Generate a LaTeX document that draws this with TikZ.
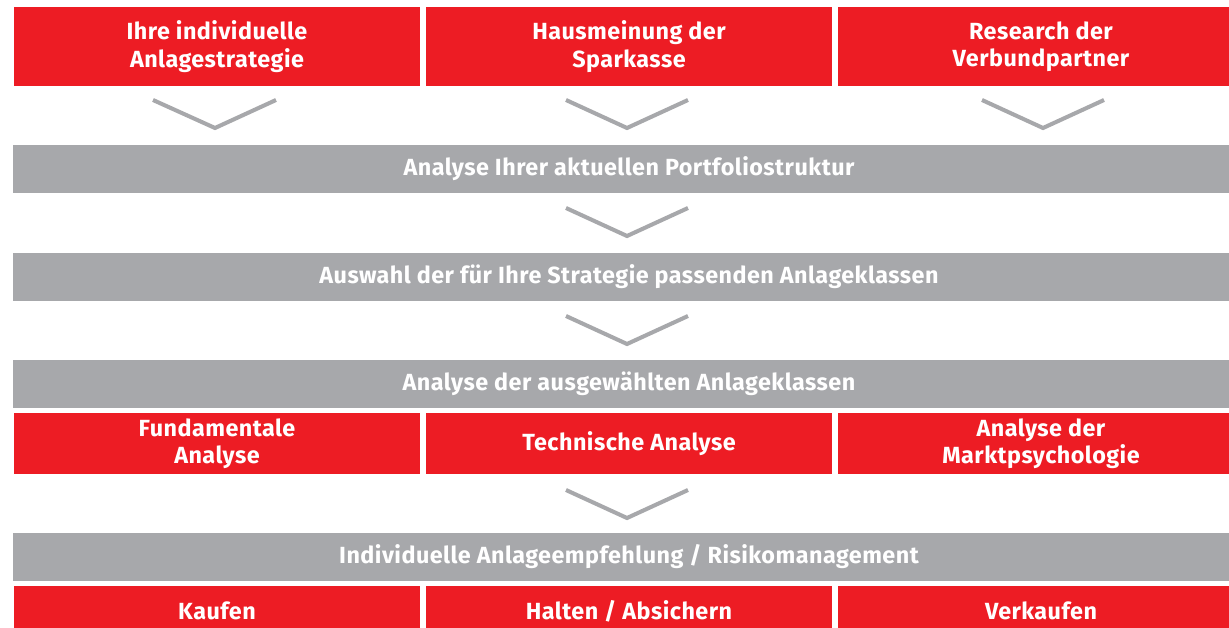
\documentclass[tikz,border=0pt]{standalone}
\usepackage{fontspec}
\setmainfont{Fira Sans}[LetterSpace=2.0]
\usepackage{xcolor}
\usepackage{tikz}
\usetikzlibrary{arrows}
\definecolor{sred}{HTML}{ED1C24}
\definecolor{sgray}{HTML}{A7A8AB}
\tikzset{
	box/.style={inner sep=0pt,align=center,text=white,font=\bfseries\fontsize{13.3}{15.6}\selectfont},
	red box/.style={box,fill=sred,minimum width=8.14cm},
	gray bar/.style={box,fill=sgray,minimum width=24.64cm,minimum height=0.96cm},
	chevron/.style={draw=sgray,line width=2.3pt}
}

\begin{document}
\begin{tikzpicture}[x=0.02cm,y=-0.02cm]
  \useasboundingbox (0,0) rectangle (1229,628);
  \clip (0,0) rectangle (1229,628);
  % top row
  \node [red box,minimum height=1.58cm] (strat) at (217,46.5) {Ihre individuelle\\Anlagestrategie};
  \node [red box,minimum height=1.58cm] (haus) at (629,46.5) {Hausmeinung der\\Sparkasse};
  \node [red box,minimum height=1.58cm] (research) at (1041,46.5) {Research der\\Verbundpartner};
  \draw[chevron] (153,100) -- (215,128) -- (276,100);
  \draw[chevron] (566,100) -- (627,128) -- (688,100);
  \draw[chevron] (982,100) -- (1043,128) -- (1104,100);
  % process
  \node [gray bar] (analyse) at (629,169) {Analyse Ihrer aktuellen Portfoliostruktur};
  \draw[chevron] (566,208) -- (627,236) -- (688,208);
  \node [gray bar] (auswahl) at (629,277) {Auswahl der für Ihre Strategie passenden Anlageklassen};
  \draw[chevron] (566,316) -- (627,344) -- (688,316);
  \node [gray bar] (klassen) at (629,384) {Analyse der ausgewählten Anlageklassen};
  \node [red box,minimum height=1.22cm] (fund) at (217,443.5) {Fundamentale\\Analyse};
  \node [red box,minimum height=1.22cm] (tech) at (629,443.5) {Technische Analyse};
  \node [red box,minimum height=1.22cm] (psych) at (1041,443.5) {Analyse der\\Marktpsychologie};
  \draw[chevron] (566,490) -- (627,518) -- (688,490);
  \node [gray bar] (empf) at (629,557) {Individuelle Anlageempfehlung / Risikomanagement};
  % bottom row
  \node [red box,minimum height=1.0cm] (kaufen) at (217,611) {Kaufen};
  \node [red box,minimum height=1.0cm] (halten) at (629,611) {Halten / Absichern};
  \node [red box,minimum height=1.0cm] (verkaufen) at (1041,611) {Verkaufen};
\end{tikzpicture}
\end{document}
